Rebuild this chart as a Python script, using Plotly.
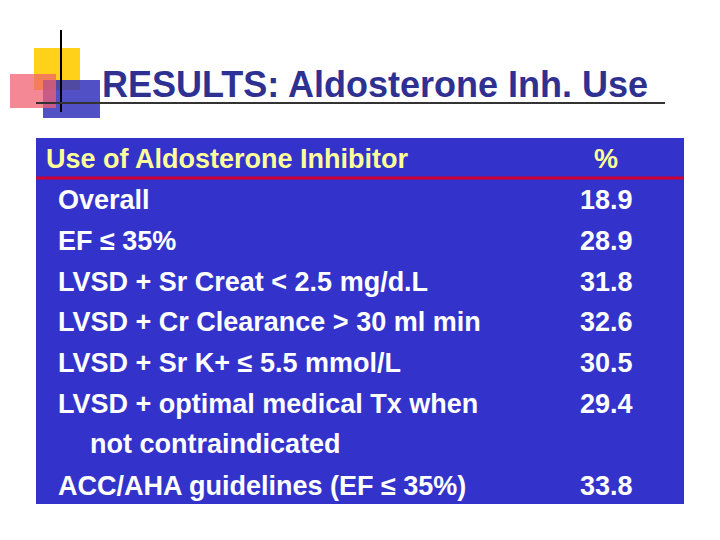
import plotly.graph_objects as go

header_label = "Use of Aldosterone Inhibitor"
header_value = "%"
labels = ["Overall", "EF ≤ 35%", "LVSD + Sr Creat < 2.5 mg/d.L",
          "LVSD + Cr Clearance > 30 ml min", "LVSD + Sr K+ ≤ 5.5 mmol/L",
          "LVSD + optimal medical Tx when", "ACC/AHA guidelines (EF ≤ 35%)"]
continuation = {5: "not contraindicated"}
values = ["18.9", "28.9", "31.8", "32.6", "30.5", "29.4", "33.8"]
row_y = [200, 241, 282, 322, 363, 404, 486]

D = 8  # page offset compensation
F = "Liberation Sans, Arial, sans-serif"
fig = go.Figure()
shapes = [
    dict(type="rect", x0=36-D, x1=684-D, y0=138-D, y1=504-D, fillcolor="#3333CC", line_width=0, layer="below"),
    dict(type="line", x0=36-D, x1=684-D, y0=178-D, y1=178-D, line=dict(color="#CC0033", width=3)),
    dict(type="rect", x0=34-D, x1=80-D, y0=48-D, y1=90-D, fillcolor="#FFCC00", line_width=0, opacity=0.9),
    dict(type="rect", x0=43-D, x1=100-D, y0=80-D, y1=118-D, fillcolor="#3333BB", line_width=0, opacity=0.85),
    dict(type="rect", x0=10-D, x1=56-D, y0=74-D, y1=108-D, fillcolor="#F06070", line_width=0, opacity=0.75),
    dict(type="line", x0=61-D, x1=61-D, y0=30-D, y1=112-D, line=dict(color="black", width=2)),
    dict(type="line", x0=36-D, x1=665-D, y0=103-D, y1=103-D, line=dict(color="#333333", width=2)),
]
ann = [
    dict(x=100-D, y=84-D, text="<b>RESULTS: Aldosterone Inh. Use</b>", xanchor="left", yanchor="middle",
         font=dict(family=F, size=36, color="#2E3192"), showarrow=False),
    dict(x=44-D, y=159-D, text="<b>" + header_label + "</b>", xanchor="left", yanchor="middle",
         font=dict(family=F, size=27, color="#FFFF99"), showarrow=False),
    dict(x=606-D, y=159-D, text="<b>" + header_value + "</b>", xanchor="center", yanchor="middle",
         font=dict(family=F, size=27, color="#FFFF99"), showarrow=False),
]
for i, (lab, val, y) in enumerate(zip(labels, values, row_y)):
    ann.append(dict(x=56-D, y=y-D, text="<b>" + lab + "</b>", xanchor="left", yanchor="middle",
                    font=dict(family=F, size=27, color="white"), showarrow=False))
    ann.append(dict(x=606-D, y=y-D, text="<b>" + val + "</b>", xanchor="center", yanchor="middle",
                    font=dict(family=F, size=27, color="white"), showarrow=False))
    if i in continuation:
        ann.append(dict(x=88-D, y=y+40-D, text="<b>" + continuation[i] + "</b>", xanchor="left",
                        yanchor="middle", font=dict(family=F, size=27, color="white"), showarrow=False))

fig.update_layout(width=720, height=540, margin=dict(l=0, r=0, t=0, b=0),
                  paper_bgcolor="white", plot_bgcolor="white", shapes=shapes, annotations=ann,
                  xaxis=dict(range=[0, 720], visible=False, fixedrange=True),
                  yaxis=dict(range=[540, 0], visible=False, fixedrange=True), showlegend=False)
fig.write_html("out.html")
